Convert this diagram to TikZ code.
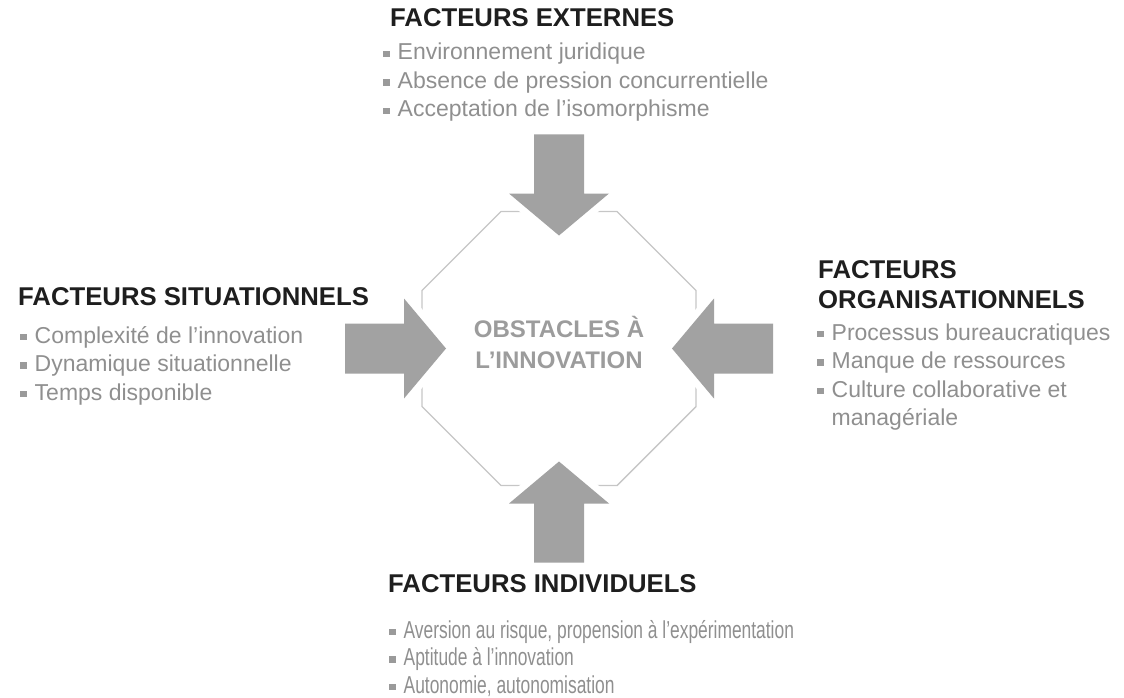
\documentclass[tikz,border=0pt]{standalone}
\usepackage{fontspec}
\setmainfont{Liberation Sans}
\newfontfamily\etroit[FakeStretch=0.71]{Liberation Sans}
\definecolor{noirtitre}{HTML}{1E1E1E}
\definecolor{gristexte}{HTML}{8F8F8F}
\definecolor{grispuce}{HTML}{9A9A9A}
\definecolor{grisfleche}{HTML}{A2A2A2}
\definecolor{grisligne}{HTML}{C6C6C6}
\definecolor{griscentre}{HTML}{9C9C9C}
\newcommand\puce{{\color{grispuce}\rule[0.12em]{6.5pt}{6.5pt}}\hspace{8pt}}
\newcommand\retrait{\hspace*{14.5pt}}
\newcommand\Lignes[2][l]{\begin{tabular}[t]{@{}#1@{}}#2\end{tabular}}

\begin{document}
\begin{tikzpicture}[x=1pt,y=-1pt,
    titre/.style={font=\fontsize{25.7}{30}\selectfont\bfseries, text=noirtitre, inner sep=0pt, anchor=base west},
    liste/.style={font=\fontsize{23}{28.5}\selectfont, text=gristexte, inner sep=0pt, anchor=base west},
    milieu/.style={font=\fontsize{24}{31}\selectfont\bfseries, text=griscentre, inner sep=0pt, anchor=base},
    fleche/.style={fill=grisfleche, preaction={draw=white, line width=14pt, line join=miter}},
    octo/.style={draw=grisligne, line width=1.4pt}]
    \useasboundingbox (0,0) rectangle (1124,698);
    \coordinate (centre) at (559,348.5);

    \begin{scope}[shift={(centre)}]
    \draw[octo] (-58,-137) -- (58,-137) -- (137,-58) -- (137,58) -- (58,137) -- (-58,137) -- (-137,58) -- (-137,-58) -- cycle;
    \foreach \ang in {0,90,180,270}
        \fill[fleche,rotate=\ang] (-113,0) -- (-155,-50) -- (-155,-25) -- (-214,-25) -- (-214,25) -- (-155,25) -- (-155,50) -- cycle;
    \end{scope}

    \node[milieu] (obstacles) at (559,337) {\Lignes[c]{OBSTACLES À\\L’INNOVATION}};

    \node[titre] (externes) at (390,27) {FACTEURS EXTERNES};
    \node[liste] (externes-l) at (383,60) {\Lignes{\puce Environnement juridique\\
        \puce Absence de pression concurrentielle\\
        \puce Acceptation de l’isomorphisme}};

    \node[titre] (situ) at (18,305) {FACTEURS SITUATIONNELS};
    \node[liste] (situ-l) at (20,343) {\Lignes{\puce Complexité de l’innovation\\
        \puce Dynamique situationnelle\\
        \puce Temps disponible}};

    \node[titre] (orga) at (818,278) {\Lignes{FACTEURS\\ORGANISATIONNELS}};
    \node[liste] (orga-l) at (817,340) {\Lignes{\puce Processus bureaucratiques\\
        \puce Manque de ressources\\
        \puce Culture collaborative et\\
        \retrait managériale}};

    \node[titre] (indiv) at (388,592) {FACTEURS INDIVIDUELS};
    \node[liste, font=\etroit\fontsize{24.5}{27.5}\selectfont] (indiv-l) at (389,638) {\Lignes{\puce Aversion au risque, propension à l’expérimentation\\
        \puce Aptitude à l’innovation\\
        \puce Autonomie, autonomisation}};
\end{tikzpicture}
\end{document}
